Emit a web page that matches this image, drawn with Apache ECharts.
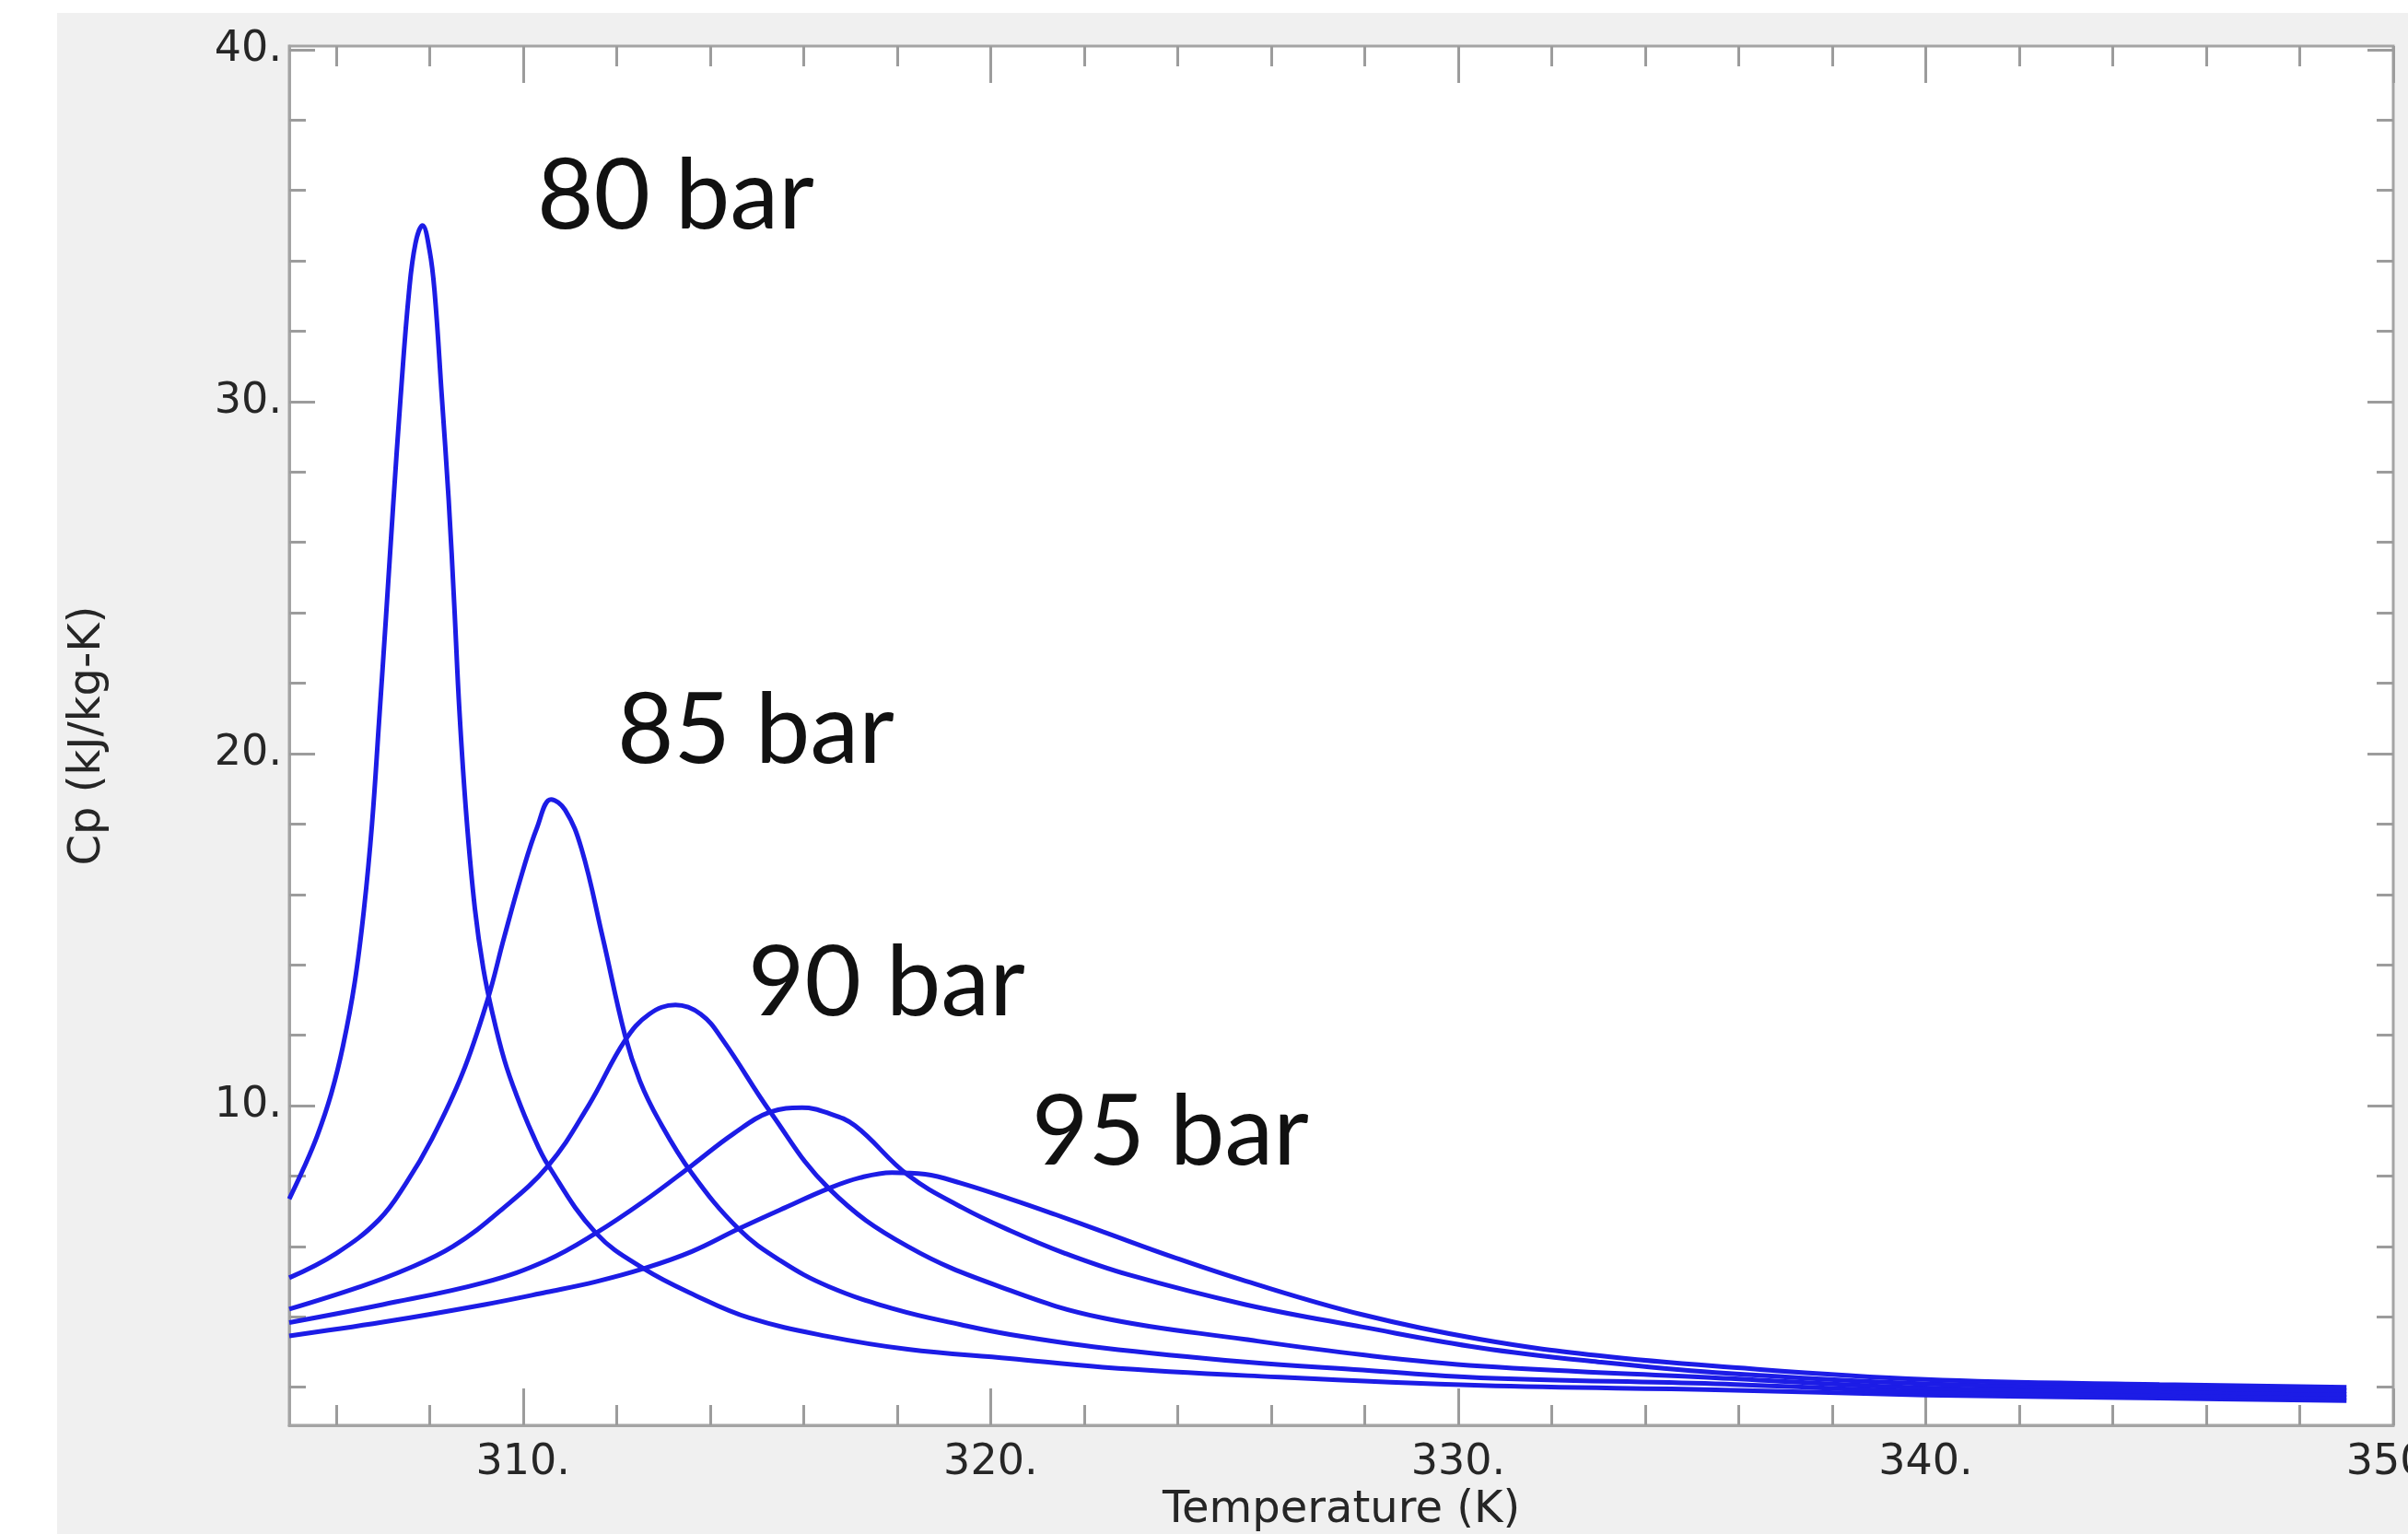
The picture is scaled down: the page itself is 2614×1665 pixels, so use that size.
<!DOCTYPE html>
<html>
<head>
<meta charset="utf-8">
<title>Cp vs Temperature</title>
<script src="https://cdn.jsdelivr.net/npm/echarts@6/dist/echarts.min.js"></script>
<style>
  html, body { margin: 0; padding: 0; background: #fff; }
  #chart { width: 2614px; height: 1665px; }
</style>
</head>
<body>
<div id="chart"></div>
<script>
// temperature (K) / Cp (kJ/kg-K), one pair of arrays per pressure
var t80 = [305.0, 305.3, 305.6, 305.9, 306.15, 306.4, 306.6, 306.77, 306.92, 307.07, 307.22, 307.38, 307.56, 307.7, 307.85, 308.0, 308.11, 308.26, 308.41, 308.53, 308.64, 308.79, 308.97, 309.15, 309.35, 309.6, 309.86, 310.2, 310.54, 311.56, 312.58, 313.7, 314.84, 316.5, 318.23, 320.4, 322.4, 325.5, 330.5, 335.5, 340, 345, 349];
var cp80 = [7.35, 8.2, 9.15, 10.35, 11.7, 13.5, 15.6, 18.0, 20.9, 23.9, 27.0, 30.1, 33.1, 34.5, 35.0, 34.3, 33.1, 30.2, 27.2, 24.2, 21.2, 18.2, 15.6, 13.9, 12.6, 11.3, 10.3, 9.2, 8.3, 6.38, 5.37, 4.6, 3.97, 3.45, 3.08, 2.82, 2.57, 2.33, 2.05, 1.93, 1.78, 1.69, 1.62];

var t85 = [305.0, 306.0, 306.92, 307.5, 308.05, 308.7, 309.24, 309.6, 309.98, 310.3, 310.6, 310.9, 311.25, 311.7, 312.18, 312.5, 312.9, 313.6, 314.61, 315.5, 316.54, 318.0, 319.36, 320.42, 322.4, 325.45, 327.96, 330.48, 335.5, 340, 345, 349];
var cp85 = [5.11, 5.8, 6.76, 7.8, 9.05, 10.9, 13.0, 14.8, 16.6, 17.9, 18.7, 18.4, 17.3, 14.8, 12.0, 10.7, 9.6, 8.1, 6.5, 5.6, 4.86, 4.2, 3.78, 3.5, 3.12, 2.72, 2.49, 2.27, 2.1, 1.88, 1.78, 1.71];

var t90 = [305.0, 306.5, 307.5, 308.5, 309.5, 310.54, 311.4, 312.18, 312.7, 313.26, 313.8, 314.28, 315.29, 316.54, 318.23, 320.42, 322.4, 325.45, 327.96, 330.48, 335.5, 340, 345, 349];
var cp90 = [4.22, 4.85, 5.35, 6.0, 7.0, 8.3, 10.0, 11.85, 12.6, 12.86, 12.6, 11.85, 9.82, 7.65, 6.0, 4.75, 3.97, 3.36, 2.92, 2.6, 2.27, 1.98, 1.88, 1.8];

var t95 = [305.0, 307.0, 309.18, 310.5, 311.56, 312.6, 313.6, 314.5, 315.29, 315.97, 316.5, 317.1, 318.23, 319.4, 320.42, 321.6, 322.94, 325.45, 327.96, 330.48, 332.99, 335.5, 340, 345, 349];
var cp95 = [3.84, 4.35, 4.98, 5.6, 6.38, 7.3, 8.29, 9.2, 9.82, 9.94, 9.8, 9.43, 8.03, 7.1, 6.45, 5.8, 5.2, 4.35, 3.71, 3.12, 2.72, 2.42, 2.1, 1.98, 1.9];

var t100 = [305.0, 307.0, 309.18, 310.5, 311.56, 312.58, 313.6, 314.61, 315.6, 316.54, 317.2, 317.89, 318.6, 319.36, 320.42, 321.4, 322.4, 323.9, 325.45, 327.96, 330.48, 332.99, 335.5, 340, 345, 349];
var cp100 = [3.46, 3.85, 4.35, 4.7, 5.0, 5.37, 5.85, 6.5, 7.1, 7.65, 7.95, 8.1, 8.05, 7.8, 7.35, 6.9, 6.42, 5.7, 5.02, 4.06, 3.36, 2.9, 2.6, 2.22, 2.08, 2.0];

// axis ticks and labels
var xMajor = [310, 320, 330, 340, 350];
var xMinor = [306, 308, 312, 314, 316, 318, 322, 324, 326, 328, 332, 334, 336, 338, 342, 344, 346, 348];
var yMajor = [10, 20, 30, 40];
var yMinor = [2, 4, 6, 8, 12, 14, 16, 18, 22, 24, 26, 28, 32, 34, 36, 38];

var curveLabels = ['80 bar', '85 bar', '90 bar', '95 bar'];

function pairs(t, cp) {
    return t.map(function (v, i) { return [v, cp[i]]; });
}

var tickColor = '#9c9c9c';
var labelFont = 'DejaVu Sans';
var textColor = '#262626';

function xAxisOf(pos, ticks, len, withLabels) {
    return {
        type: 'value', min: 305, max: 350, position: pos,
        axisLine: { show: withLabels, lineStyle: { color: '#a4a4a4', width: 3 } },
        axisTick: { show: true, inside: true, length: len, customValues: ticks,
                    lineStyle: { color: tickColor, width: 3 } },
        axisLabel: withLabels ? {
            show: true, customValues: xMajor, margin: 18,
            fontFamily: labelFont, fontSize: 46, color: textColor,
            formatter: function (v) { return v + '.'; }
        } : { show: false },
        splitLine: { show: false }
    };
}

function yAxisOf(pos, ticks, len, withLabels) {
    return {
        type: 'value', min: 0.92, max: 40.1, position: pos,
        axisLine: { show: withLabels, lineStyle: { color: '#a4a4a4', width: 3 } },
        axisTick: { show: true, inside: true, length: len, customValues: ticks,
                    lineStyle: { color: tickColor, width: 3 } },
        axisLabel: withLabels ? {
            show: true, customValues: yMajor, margin: 8,
            fontFamily: labelFont, fontSize: 46, color: textColor,
            formatter: function (v) { return v + '.'; }
        } : { show: false },
        splitLine: { show: false }
    };
}

var xAxes = [
    xAxisOf('bottom', xMajor, 40, true),
    xAxisOf('bottom', xMinor, 22, false),
    xAxisOf('top', xMajor, 40, false),
    xAxisOf('top', xMinor, 22, false)
];
xAxes[0].name = 'Temperature (K)';
xAxes[0].nameLocation = 'middle';
xAxes[0].nameGap = 58;
xAxes[0].nameTextStyle = { fontFamily: labelFont, fontSize: 48, color: textColor };

var yAxes = [
    yAxisOf('left', yMajor, 28, true),
    yAxisOf('left', yMinor, 18, false),
    yAxisOf('right', yMajor, 28, false),
    yAxisOf('right', yMinor, 18, false)
];
yAxes[0].name = 'Cp (kJ/kg-K)';
yAxes[0].nameLocation = 'middle';
yAxes[0].nameGap = 194;
yAxes[0].nameTextStyle = { fontFamily: labelFont, fontSize: 48, color: textColor };

var lineColor = '#1c1ce6';
var series = [[t80, cp80], [t85, cp85], [t90, cp90], [t95, cp95], [t100, cp100]].map(function (s) {
    return {
        type: 'line',
        data: pairs(s[0], s[1]),
        xAxisIndex: 0, yAxisIndex: 0,
        showSymbol: false,
        smooth: 0.4,
        lineStyle: { color: lineColor, width: 5 },
        z: 3
    };
});

// label anchors (pixel left / vertical middle)
var labelPos = [[583, 214], [670, 794], [812, 1068], [1120, 1230]];

var chart = echarts.init(document.getElementById('chart'));
var option = {
    animation: false,
    backgroundColor: '#ffffff',
    grid: {
        left: 314, right: 16, top: 50, bottom: 118,
        outerBoundsMode: 'none',
        containLabel: false,
        show: true, backgroundColor: '#ffffff',
        borderColor: '#a4a4a4', borderWidth: 3
    },
    graphic: [{
        type: 'rect', z: -10, silent: true,
        shape: { x: 62, y: 14, width: 2552, height: 1651 },
        style: { fill: '#f0f0f0' }
    }].concat(curveLabels.map(function (txt, i) {
        return {
            type: 'text', z: 10, silent: true,
            x: labelPos[i][0], y: labelPos[i][1],
            style: {
                text: txt, fill: '#111111',
                font: '106px Lato',
                textAlign: 'left', textVerticalAlign: 'middle'
            }
        };
    })),
    xAxis: xAxes,
    yAxis: yAxes,
    series: series
};
option && chart.setOption(option);
</script>
</body>
</html>
